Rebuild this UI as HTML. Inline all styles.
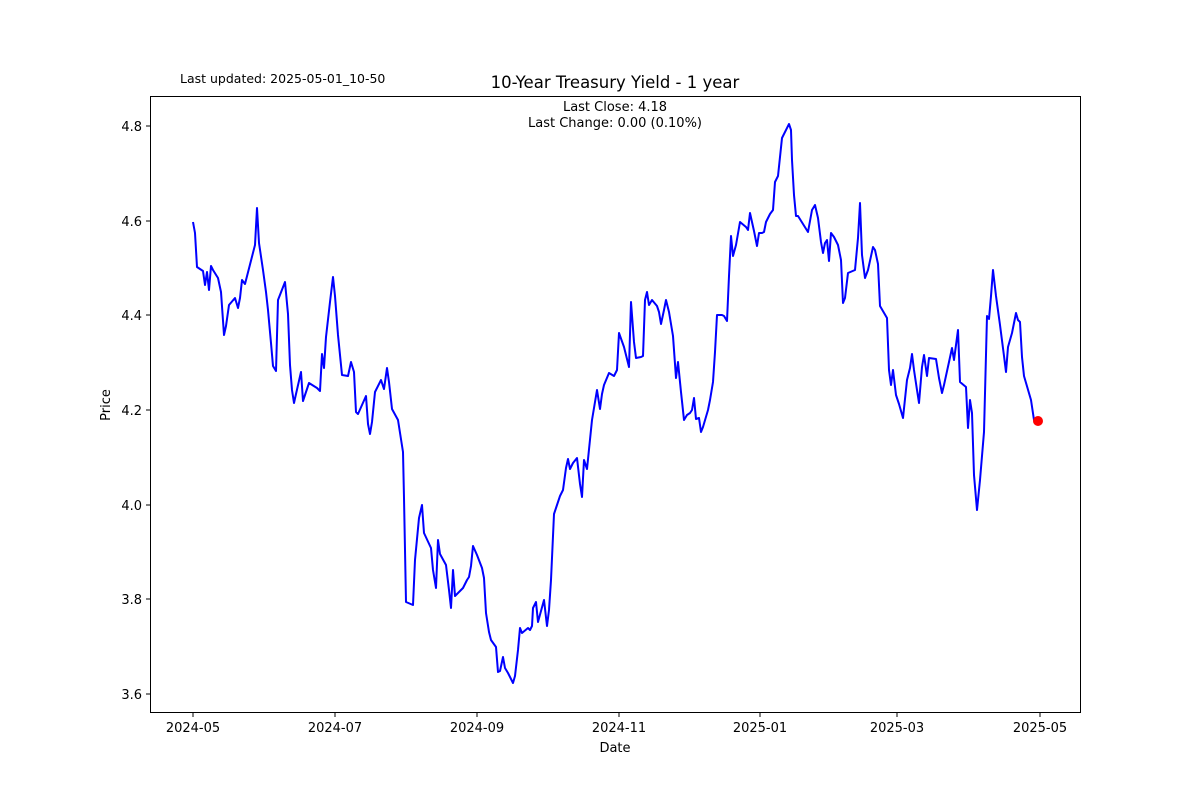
<!DOCTYPE html>
<html><head><meta charset="utf-8"><style>body{margin:0;background:#fff}svg{display:block}text{font-family:"DejaVu Sans","Liberation Sans",sans-serif;fill:#000}</style></head><body>
<svg width="1200" height="800" viewBox="0 0 1200 800" xmlns="http://www.w3.org/2000/svg">
<rect width="1200" height="800" fill="#fff"/>
<text x="180" y="83" font-size="12.5">Last updated: 2025-05-01_10-50</text>
<text x="615" y="88" font-size="16.5" text-anchor="middle">10-Year Treasury Yield - 1 year</text>
<text x="615" y="111" font-size="13" text-anchor="middle">Last Close: 4.18</text>
<text x="615" y="127" font-size="13" text-anchor="middle">Last Change: 0.00 (0.10%)</text>
<polyline fill="none" stroke="#0000ff" stroke-width="2" stroke-linejoin="round" points="193,222 195,233 197,267 203,271 205,285 207,272 209,290 211,266 213,270 218,278 221,292 224,335 226,326 229,305 235,298 238,308 240,298 242,280 245,284 255,245 257,208 259,243 263,270 266,292 268,310 271,343 273,366 276,371 278,300 285,282 288,314 290,365 292,390 294,403 296,394 301,372 303,401 306,392 309,383 317,388 320,391 322,354 324,368 326,337 330,302 333,277 335,296 338,335 342,375 348,376 351,362 354,372 356,412 358,414 366,396 368,424 370,434 372,422 375,392 381,380 384,389 387,368 389,382 392,409 398,420 403,452 404,498 406,602 413,605 415,560 419,518 422,505 424,533 431,548 433,570 436,588 438,540 440,554 446,565 449,590 451,608 453,570 455,596 458,593 463,588 467,580 469,577 471,566 473,546 477,555 482,568 484,578 486,613 489,632 491,640 496,647 498,672 500,671 503,657 505,668 508,673 513,683 515,676 518,650 520,628 522,633 528,628 530,630 532,626 533,608 536,602 538,622 544,600 547,626 549,610 551,580 554,514 556,508 560,496 563,490 566,468 568,459 570,469 573,463 577,458 580,484 582,497 584,460 587,469 592,420 595,402 597,390 600,409 602,394 604,385 609,373 614,376 617,370 619,333 624,347 629,367 631,302 634,342 636,358 641,357 643,356 645,300 647,292 649,305 652,300 657,306 659,312 661,324 664,310 666,300 669,312 673,336 676,378 678,362 681,392 684,420 687,415 690,413 692,410 694,398 696,419 699,418 701,432 703,427 708,410 710,400 713,382 715,352 717,315 722,315 724,316 727,321 729,276 731,236 733,256 736,245 740,222 746,227 748,230 750,213 754,231 757,246 759,233 762,233 764,232 766,222 770,214 773,210 775,182 778,176 782,138 789,124 791,130 792,160 794,195 796,216 798,216 808,232 812,210 815,205 818,218 821,242 823,253 825,243 827,240 829,261 831,233 834,237 838,245 841,260 843,303 845,298 848,273 855,270 858,238 860,203 862,255 865,278 868,270 873,247 875,250 878,264 880,306 887,318 889,370 891,385 893,370 896,395 899,404 903,418 907,380 910,368 912,354 914,370 917,390 919,403 922,367 924,355 927,376 929,358 936,359 939,378 942,393 944,385 949,362 952,348 954,360 958,330 960,382 966,387 968,428 970,400 972,413 974,475 977,510 980,480 984,432 987,316 989,319 991,296 993,270 996,296 1000,325 1004,356 1006,372 1008,347 1012,333 1016,313 1018,320 1020,322 1022,357 1024,376 1031,400 1034,420 1036,420 1038,421"/>
<circle cx="1038" cy="421" r="5" fill="#ff0000"/>
<rect x="150.5" y="96.5" width="930" height="616" fill="none" stroke="#000" stroke-width="1"/>
<g stroke="#000" stroke-width="1">
<line x1="193" y1="713" x2="193" y2="717"/><line x1="335" y1="713" x2="335" y2="717"/><line x1="477" y1="713" x2="477" y2="717"/><line x1="619" y1="713" x2="619" y2="717"/><line x1="760" y1="713" x2="760" y2="717"/><line x1="897" y1="713" x2="897" y2="717"/><line x1="1040" y1="713" x2="1040" y2="717"/>
<line x1="146" y1="694" x2="150" y2="694"/><line x1="146" y1="599" x2="150" y2="599"/><line x1="146" y1="505" x2="150" y2="505"/><line x1="146" y1="410" x2="150" y2="410"/><line x1="146" y1="315" x2="150" y2="315"/><line x1="146" y1="221" x2="150" y2="221"/><line x1="146" y1="126" x2="150" y2="126"/>
</g>
<g font-size="13" text-anchor="middle">
<text x="193" y="732">2024-05</text><text x="335" y="732">2024-07</text><text x="477" y="732">2024-09</text><text x="619" y="732">2024-11</text><text x="760" y="732">2025-01</text><text x="897" y="732">2025-03</text><text x="1040" y="732">2025-05</text>
<text x="615" y="752">Date</text>
</g>
<g font-size="13" text-anchor="end">
<text x="142" y="699">3.6</text><text x="142" y="604">3.8</text><text x="142" y="510">4.0</text><text x="142" y="415">4.2</text><text x="142" y="320">4.4</text><text x="142" y="226">4.6</text><text x="142" y="131">4.8</text>
</g>
<text x="110" y="405" font-size="13" text-anchor="middle" transform="rotate(-90 110 405)">Price</text>
</svg>
</body></html>
